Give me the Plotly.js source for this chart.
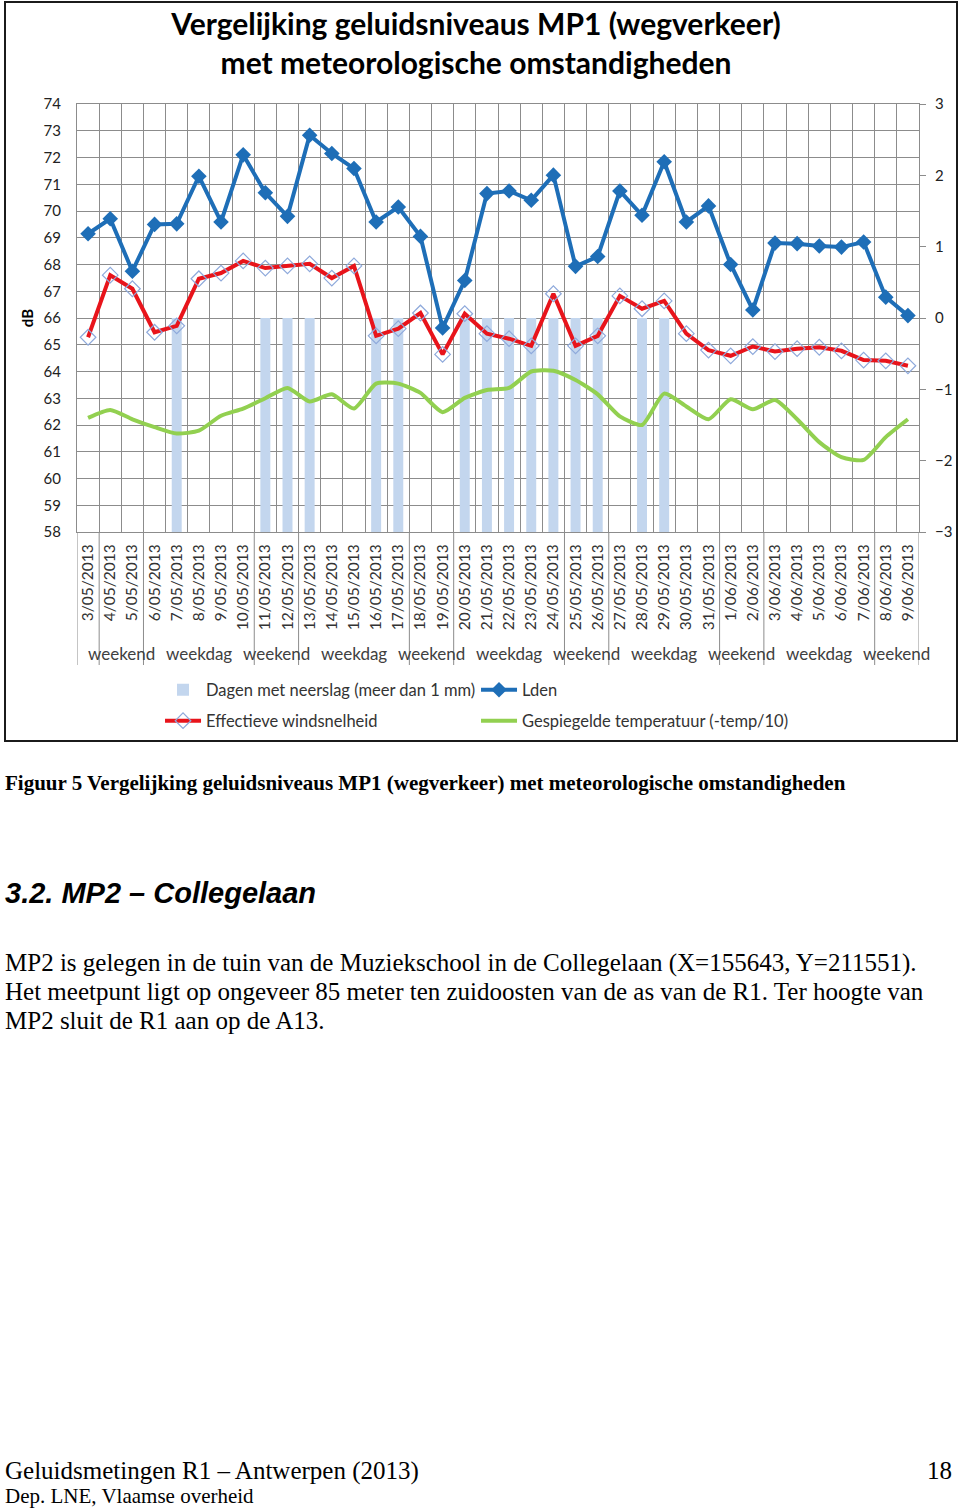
<!DOCTYPE html>
<html><head><meta charset="utf-8">
<script src="https://cdn.plot.ly/plotly-3.0.1.min.js"></script>
<style>
body{margin:0;background:#fff;width:960px;height:1510px;position:relative;overflow:hidden}
#frame{position:absolute;left:4px;top:1px;width:954px;height:741px;border:2px solid #1b1b1b;box-sizing:border-box;pointer-events:none}
#chart{position:absolute;left:6px;top:3px;width:950px;height:736px}
.t{position:absolute;white-space:nowrap;color:#000;line-height:1}
.serif{font-family:"Liberation Serif","Times New Roman",serif}
</style></head><body>
<div id="chart"></div>
<div id="frame"></div>
<div class="t serif" style="left:5px;top:773px;font-size:21px;font-weight:bold">Figuur 5 Vergelijking geluidsniveaus MP1 (wegverkeer) met meteorologische omstandigheden</div>
<div class="t" style="left:5px;top:879px;font-size:29px;font-weight:bold;font-style:italic;font-family:'Liberation Sans',Arial,sans-serif">3.2. MP2 – Collegelaan</div>
<div class="t serif" style="left:5px;top:948px;font-size:25px;line-height:29px">MP2 is gelegen in de tuin van de Muziekschool in de Collegelaan (X=155643, Y=211551).<br>Het meetpunt ligt op ongeveer 85 meter ten zuidoosten van de as van de R1. Ter hoogte van<br>MP2 sluit de R1 aan op de A13.</div>
<div class="t serif" style="left:5px;top:1458px;font-size:25px">Geluidsmetingen R1 – Antwerpen (2013)</div>
<div class="t serif" style="right:8px;top:1458px;font-size:25px">18</div>
<div class="t serif" style="left:5px;top:1486px;font-size:21px">Dep. LNE, Vlaamse overheid</div>
<script>
const dates = ['3/05/2013','4/05/2013','5/05/2013','6/05/2013','7/05/2013','8/05/2013','9/05/2013','10/05/2013',
  '11/05/2013','12/05/2013','13/05/2013','14/05/2013','15/05/2013','16/05/2013','17/05/2013','18/05/2013',
  '19/05/2013','20/05/2013','21/05/2013','22/05/2013','23/05/2013','24/05/2013','25/05/2013','26/05/2013',
  '27/05/2013','28/05/2013','29/05/2013','30/05/2013','31/05/2013','1/06/2013','2/06/2013','3/06/2013',
  '4/06/2013','5/06/2013','6/06/2013','7/06/2013','8/06/2013','9/06/2013'];
// Lden in dB (left axis)
const lden = [69.15,69.71,67.75,69.5,69.52,71.3,69.59,72.1,70.68,69.8,72.83,72.15,71.59,69.59,70.15,69.05,65.63,67.4,
  70.65,70.75,70.4,71.34,67.93,68.3,70.75,69.84,71.84,69.59,70.19,68.0,66.3,68.8,68.78,68.69,68.65,68.84,66.78,66.09];
// Effectieve windsnelheid (right axis)
const windEff = [-0.27,0.60,0.41,-0.20,-0.11,0.55,0.63,0.80,0.70,0.73,0.76,0.56,0.73,-0.25,-0.15,0.07,-0.51,0.06,
  -0.22,-0.29,-0.39,0.34,-0.39,-0.25,0.31,0.13,0.24,-0.22,-0.45,-0.53,-0.40,-0.47,-0.43,-0.41,-0.46,-0.59,-0.60,-0.67];
// Gespiegelde temperatuur (-temp/10) (right axis)
const tempMirrored = [-1.40,-1.29,-1.42,-1.53,-1.62,-1.58,-1.37,-1.27,-1.125,-0.98,-1.17,-1.07,-1.27,-0.92,-0.92,-1.05,
  -1.32,-1.12,-1.01,-0.98,-0.75,-0.74,-0.87,-1.07,-1.38,-1.50,-1.06,-1.24,-1.42,-1.14,-1.28,-1.15,-1.42,-1.74,-1.95,-1.99,-1.67,-1.42];
// Dagen met neerslag (right axis, bar down to -3)
const rainDays = [null,null,null,null,-3,null,null,null,-3,-3,-3,null,null,-3,-3,null,null,-3,-3,-3,-3,-3,-3,-3,
  null,-3,-3,null,null,null,null,null,null,null,null,null,null,null];
// second level category labels
const dayGroups = ['weekend','weekdag','weekend','weekdag','weekend','weekdag','weekend','weekdag','weekend','weekdag','weekend'];
const groupBounds = [-0.5,0.5,2.5,7.5,9.5,14.5,16.5,21.5,23.5,28.5,30.5,35.5,37.5];

const FONT = 'Lato, "Open Sans", sans-serif';
const plotTop = 104, plotBottom = 532, plotH = plotBottom - plotTop;
const py = (pix) => -(pix - plotBottom) / plotH;

const traces = [
  {type:'bar', name:'Dagen met neerslag (meer dan 1 mm)', x:dates, y:rainDays, yaxis:'y', width:0.45,
   marker:{color:'#C3D6EE', line:{width:0}}, legend:'legend', legendrank:1},
  {type:'scatter', mode:'lines', name:'Gespiegelde temperatuur (-temp/10)', x:dates, y:tempMirrored, yaxis:'y',
   line:{color:'#92D050', width:4, shape:'spline', smoothing:0.6}, legend:'legend2', legendrank:4},
  {type:'scatter', mode:'lines+markers', name:'Effectieve windsnelheid', x:dates, y:windEff, yaxis:'y',
   line:{color:'#E8141B', width:4}, marker:{symbol:'diamond-open', size:12, color:'#8EA9DB', line:{width:1.2, color:'#8EA9DB'}},
   legend:'legend2', legendrank:3},
  {type:'scatter', mode:'lines+markers', name:'Lden', x:dates, y:lden, yaxis:'y2',
   line:{color:'#1E6EB7', width:4}, marker:{symbol:'diamond', size:12, color:'#1E6EB7'}, legend:'legend', legendrank:2}
];

const shapes = groupBounds.map(b => ({type:'line', xref:'x', yref:'paper', x0:b, x1:b, y0:0, y1:py(665),
  line:{color:'#8c8c8c', width:1}}));
const annotations = dayGroups.map((g,i) => ({xref:'x', yref:'paper', x:1.5 + 3.5*i, y:py(653), text:g, showarrow:false,
  xanchor:'center', yanchor:'middle', font:{family:FONT, size:17, color:'#404040'}}));

const legendBase = {orientation:'h', xanchor:'left', yanchor:'middle', x:0.0986, entrywidth:265,
  bgcolor:'rgba(0,0,0,0)', font:{family:FONT, size:16.5, color:'#333'}, itemwidth:36};

const layout = {
  width:950, height:736,
  margin:{l:71, r:37, t:101, b:207, autoexpand:false},
  paper_bgcolor:'#fff', plot_bgcolor:'#fff',
  title:{text:'Vergelijking geluidsniveaus MP1 (wegverkeer)<br>met meteorologische omstandigheden',
    font:{family:FONT, size:30, color:'#000', weight:'bold'}, xref:'container', x:0.4947, xanchor:'center',
    yref:'container', y:0.956, yanchor:'top'},
  xaxis:{type:'category', range:[-0.5,37.5], tickson:'boundaries', showgrid:true, gridcolor:'#8c8c8c', gridwidth:1,
    showline:true, linecolor:'#8c8c8c', mirror:true, ticks:'', tickangle:-90, ticklabelstandoff:5,
    tickfont:{family:FONT, size:15.5, color:'#333'}, automargin:false},
  yaxis:{side:'right', range:[-3,3], dtick:1, tick0:0, showgrid:false, zeroline:false, ticks:'outside', ticklen:6,
    tickcolor:'#8c8c8c', showline:true, linecolor:'#8c8c8c', ticklabelstandoff:6,
    tickfont:{family:FONT, size:15, color:'#222'}, automargin:false},
  yaxis2:{overlaying:'y', side:'left', range:[58,74], dtick:1, tick0:58, showgrid:true, gridcolor:'#8c8c8c', zeroline:false,
    showline:true, linecolor:'#8c8c8c', ticks:'', ticklabelstandoff:12, automargin:false,
    tickfont:{family:FONT, size:15, color:'#222'},
    title:{text:'dB', font:{family:FONT, size:15, color:'#000', weight:'bold'}, standoff:6}},
  showlegend:true,
  legend:Object.assign({}, legendBase, {y:py(690)}),
  legend2:Object.assign({}, legendBase, {y:py(721)}),
  shapes:shapes, annotations:annotations
};

Plotly.newPlot('chart', traces, layout, {staticPlot:true, displayModeBar:false});
</script>
</body></html>
